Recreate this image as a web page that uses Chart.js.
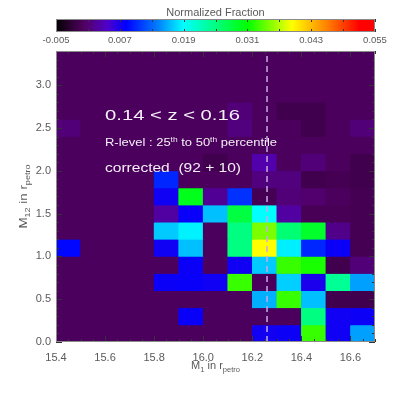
<!DOCTYPE html>
<html>
<head>
<meta charset="utf-8">
<script src="https://cdn.jsdelivr.net/npm/chart.js@4.4.1/dist/chart.umd.min.js"></script>
<style>
  html, body { margin: 0; padding: 0; background: #fff; }
  #wrap { position: relative; width: 399px; height: 399px; }
  #wrap canvas { position: absolute; left: 0; top: 0; }
</style>
</head>
<body>
<div id="wrap">
  <canvas id="main" width="399" height="399"></canvas>
  <canvas id="cbar" width="399" height="50"></canvas>
</div>
<script>
// bin lower edges
const m1Bins = [15.4, 15.5, 15.6, 15.7, 15.8, 15.9, 16.0, 16.1, 16.2, 16.3, 16.4, 16.5, 16.6];
const m12Bins = [0.0, 0.2, 0.4, 0.6, 0.8, 1.0, 1.2, 1.4, 1.6, 1.8, 2.0, 2.2, 2.4, 2.6, 2.8, 3.0, 3.2];
const binW = 0.1, binH = 0.2;

// normalized fraction per cell, one row per M12 bin (bottom row first)
const row00 = [0, 0, 0, 0, 0, 0, 0, 0, 0.0074, 0.0076, 0.0328, 0.0075, 0.0154];
const row02 = [0, 0, 0, 0, 0, 0.0078, 0, 0, 0, 0, 0.025, 0.0075, 0.0076];
const row04 = [0, 0, 0, 0, 0, 0, 0, 0, 0.016, 0.0328, 0.0166, -0.0008, -0.0008];
const row06 = [0, 0, 0, 0, 0.0077, 0.0078, 0.0075, 0.0328, 0, 0.0172, 0.007, 0.024, 0.0154];
const row08 = [0, 0, 0, 0, 0, 0.0077, 0, 0.0075, 0.017, 0.0328, 0.0318, -0.0008, 0.0012];
const row10 = [0.0085, 0, 0, 0, 0.0075, 0.0166, 0, 0.025, 0.0394, 0.0184, 0.010, 0.0077, -0.0005];
const row12 = [0, 0, 0, 0, 0.017, 0.0185, 0, 0.025, 0.035, 0.0256, 0.029, 0.002, -0.0005];
const row14 = [0, 0, 0, 0, 0.003, 0.0078, 0.0166, 0.028, 0.019, 0.003, -0.0003, -0.0003, -0.0005];
const row16 = [0, 0, 0, 0, 0.0075, 0.0298, 0.0025, 0.0105, -0.0005, 0.0012, 0.0008, 0, -0.0005];
const row18 = [0, 0, 0, 0, 0.010, 0, 0, 0, 0.0015, 0.0015, -0.0008, -0.0005, -0.0008];
const row20 = [0, 0, 0, 0, 0, 0, -0.0008, 0, 0.0034, 0, 0.0012, 0, -0.0008];
const row22 = [0, 0, 0, 0, 0, 0, 0, 0, 0, 0, 0, 0, 0];
const row24 = [0.0012, 0, 0, 0, 0, 0, 0, 0.0015, 0, 0, -0.0008, 0, 0.0012];
const row26 = [0, 0, 0, 0, 0, 0, 0, 0.0012, 0, -0.0008, -0.0008, 0, 0];
const row28 = [0, 0, 0, 0, 0, 0, 0, 0, 0, 0, 0, 0, 0];
const row30 = [0, 0, 0, 0, 0, 0, 0, 0, 0, 0, 0, 0, 0];
const row32 = [0, 0, 0, 0, 0, 0, 0, 0, 0, 0, 0, 0, 0];
const fracRows = [row00, row02, row04, row06, row08, row10, row12, row14, row16,
                  row18, row20, row22, row24, row26, row28, row30, row32];

const cutM1 = 16.26;   // dashed vertical line
const xTicks = [15.4, 15.6, 15.8, 16.0, 16.2, 16.4, 16.6];
const yTicks = [0.0, 0.5, 1.0, 1.5, 2.0, 2.5, 3.0];
const cbTicks = [-0.005, 0.007, 0.019, 0.031, 0.043, 0.055];
const cbMin = -0.005, cbMax = 0.055;

const family = "'Liberation Sans', Arial, sans-serif";
const labelGrey = '#5a5a5a';

// rainbow colour table (fraction of colour range -> rgb)
const stops = [
  [0.00, [0, 0, 0]],
  [0.04, [40, 0, 45]],
  [0.09, [82, 0, 100]],
  [0.16, [80, 0, 200]],
  [0.22, [0, 0, 255]],
  [0.32, [0, 128, 255]],
  [0.40, [0, 255, 255]],
  [0.50, [0, 255, 128]],
  [0.60, [0, 255, 0]],
  [0.74, [255, 255, 0]],
  [0.85, [255, 128, 0]],
  [0.95, [255, 0, 0]],
  [1.00, [255, 0, 0]]
];
function rgbAt(f) {
  f = Math.max(0, Math.min(1, f));
  for (let i = 1; i < stops.length; i++) {
    if (f <= stops[i][0]) {
      const [f0, c0] = stops[i - 1], [f1, c1] = stops[i];
      const t = (f - f0) / (f1 - f0);
      return 'rgb(' + c0.map((v, k) => Math.round(v + (c1[k] - v) * t)).join(',') + ')';
    }
  }
  return 'rgb(255,0,0)';
}
function colorFor(v) { return rgbAt((v - cbMin) / (cbMax - cbMin)); }

const cells = [], cellColors = [];
fracRows.forEach((row, r) => row.forEach((v, c) => {
  cells.push({ x: m1Bins[c] + binW / 2, y: [m12Bins[r], m12Bins[r] + binH] });
  cellColors.push(colorFor(v));
}));

// text made of runs with different sizes / vertical shifts
function runsWidth(ctx, runs) {
  let w = 0;
  runs.forEach(r => { ctx.font = r.size + 'px ' + family; w += ctx.measureText(r.t).width; });
  return w;
}
function drawRuns(ctx, x, y, runs, targetW, align) {
  const w = runsWidth(ctx, runs);
  const sx = targetW ? targetW / w : 1;
  const total = w * sx;
  ctx.save();
  ctx.translate(align === 'center' ? x - total / 2 : x, y);
  ctx.scale(sx, 1);
  ctx.textBaseline = 'alphabetic';
  ctx.textAlign = 'left';
  let cx = 0;
  runs.forEach(r => {
    ctx.font = r.size + 'px ' + family;
    ctx.fillText(r.t, cx, r.dy || 0);
    cx += ctx.measureText(r.t).width;
  });
  ctx.restore();
}

const heatPlugin = {
  id: 'heat',
  beforeDatasetsDraw(chart) {
    const { ctx, chartArea: a } = chart;
    ctx.save();
    ctx.fillStyle = colorFor(0);
    ctx.fillRect(a.left, a.top, a.right - a.left, a.bottom - a.top);
    ctx.restore();
  },
  afterDatasetsDraw(chart) {
    const { ctx, chartArea: a, scales } = chart;
    const sx = scales.x, sy = scales.y;
    ctx.save();
    // inward tick marks on all four sides
    ctx.strokeStyle = '#333';
    ctx.lineWidth = 1;
    ctx.beginPath();
    for (let i = 0; i <= 26; i++) {
      const v = 15.4 + i * 0.05;
      const px = Math.round(sx.getPixelForValue(v)) + 0.5;
      const len = (i % 4 === 0) ? 6 : 3;
      ctx.moveTo(px, a.bottom); ctx.lineTo(px, a.bottom - len);
      ctx.moveTo(px, a.top); ctx.lineTo(px, a.top + len);
    }
    for (let i = 0; i <= 34; i++) {
      const v = i * 0.1;
      const py = Math.round(sy.getPixelForValue(v)) + 0.5;
      const len = (i % 5 === 0) ? 6 : 3;
      ctx.moveTo(a.left, py); ctx.lineTo(a.left + len, py);
      ctx.moveTo(a.right, py); ctx.lineTo(a.right - len, py);
    }
    ctx.stroke();
    ctx.strokeStyle = '#8a8a8a';
    ctx.strokeRect(a.left + 0.5, a.top + 0.5, a.right - a.left - 1, a.bottom - a.top - 1);

    // annotations
    ctx.fillStyle = '#f4f0f6';
    drawRuns(ctx, 105, 120, [{ t: '0.14 < z < 0.16', size: 14.5 }], 135);
    drawRuns(ctx, 105, 145.5, [
      { t: 'R-level : 25', size: 10 },
      { t: 'th', size: 6.5, dy: -4 },
      { t: ' to 50', size: 10 },
      { t: 'th', size: 6.5, dy: -4 },
      { t: ' percentile', size: 10 }
    ], 172);
    drawRuns(ctx, 105, 171.5, [{ t: 'corrected  (92 + 10)', size: 12 }], 136);
    ctx.restore();
  },
  afterDraw(chart) {
    const { ctx, chartArea: a } = chart;
    ctx.save();
    ctx.fillStyle = labelGrey;
    drawRuns(ctx, (a.left + a.right) / 2, 369, [
      { t: 'M', size: 11 }, { t: '1', size: 7.5, dy: 2.5 },
      { t: ' in r', size: 11 }, { t: 'petro', size: 7.5, dy: 2.5 }
    ], 0, 'center');
    ctx.translate(27, (a.top + a.bottom) / 2);
    ctx.rotate(-Math.PI / 2);
    drawRuns(ctx, 0, 0, [
      { t: 'M', size: 11 }, { t: '12', size: 7.5, dy: 2.5 },
      { t: ' in r', size: 11 }, { t: 'petro', size: 7.5, dy: 2.5 }
    ], 64, 'center');
    ctx.restore();
  }
};

new Chart(document.getElementById('main'), {
  type: 'bar',
  data: {
    datasets: [
      {
        type: 'line',
        data: [{ x: cutM1, y: 0 }, { x: cutM1, y: 3.4 }],
        borderColor: '#c8a8e4',
        borderWidth: 1.5,
        borderDash: [6, 4],
        pointRadius: 0,
        order: 0
      },
      {
        data: cells,
        backgroundColor: cellColors,
        borderWidth: 0,
        barPercentage: 1,
        categoryPercentage: 1,
        order: 1
      }
    ]
  },
  options: {
    responsive: false,
    animation: false,
    layout: { padding: { left: 0, right: 24, top: 51, bottom: 0 } },
    plugins: { legend: { display: false }, tooltip: { enabled: false } },
    scales: {
      x: {
        type: 'linear', min: 15.4, max: 16.7, offset: false,
        grid: { display: false, drawTicks: false }, border: { display: false },
        ticks: { color: labelGrey, font: { family, size: 11 }, padding: 9, maxRotation: 0, autoSkip: false,
                 callback: v => v.toFixed(1) },
        afterBuildTicks: s => { s.ticks = xTicks.map(v => ({ value: v })); },
        afterFit: s => { s.height = 57; }
      },
      y: {
        type: 'linear', min: 0, max: 3.4,
        grid: { display: false, drawTicks: false }, border: { display: false },
        ticks: { color: labelGrey, font: { family, size: 11 }, padding: 5, autoSkip: false,
                 callback: v => v.toFixed(1) },
        afterBuildTicks: s => { s.ticks = yTicks.map(v => ({ value: v })); },
        afterFit: s => { s.width = 56; }
      }
    }
  },
  plugins: [heatPlugin]
});

// colour bar
const cbarPlugin = {
  id: 'cbarDeco',
  afterDatasetsDraw(chart) {
    const { ctx, chartArea: a, scales } = chart;
    ctx.save();
    ctx.strokeStyle = '#333';
    ctx.lineWidth = 1;
    ctx.beginPath();
    for (let i = 0; i <= 10; i++) {
      const px = Math.round(scales.x.getPixelForValue(cbMin + i * 0.006)) + 0.5;
      ctx.moveTo(px, a.top); ctx.lineTo(px, a.top + 3);
      ctx.moveTo(px, a.bottom); ctx.lineTo(px, a.bottom - 3);
    }
    ctx.stroke();
    ctx.strokeStyle = '#8a8a8a';
    ctx.strokeRect(a.left + 0.5, a.top + 0.5, a.right - a.left - 1, a.bottom - a.top - 1);
    ctx.fillStyle = labelGrey;
    ctx.font = '11px ' + family;
    ctx.textAlign = 'center';
    ctx.textBaseline = 'alphabetic';
    ctx.fillText('Normalized Fraction', (a.left + a.right) / 2, 16);
    ctx.restore();
  }
};

new Chart(document.getElementById('cbar'), {
  type: 'bar',
  data: {
    labels: ['fraction'],
    datasets: [{
      data: [[cbMin, cbMax]],
      backgroundColor: c => {
        const a = c.chart.chartArea;
        if (!a) return '#000';
        const g = c.chart.ctx.createLinearGradient(a.left, 0, a.right, 0);
        stops.forEach(([f, col]) => g.addColorStop(f, 'rgb(' + col.join(',') + ')'));
        return g;
      },
      borderWidth: 0,
      barPercentage: 1,
      categoryPercentage: 1
    }]
  },
  options: {
    indexAxis: 'y',
    responsive: false,
    animation: false,
    layout: { padding: { left: 56, right: 24, top: 19, bottom: 0 } },
    plugins: { legend: { display: false }, tooltip: { enabled: false } },
    scales: {
      x: {
        type: 'linear', min: cbMin, max: cbMax,
        grid: { display: false, drawTicks: false }, border: { display: false },
        ticks: { color: labelGrey, font: { family, size: 9.5 }, padding: 3, maxRotation: 0, autoSkip: false,
                 callback: v => v.toFixed(3) },
        afterBuildTicks: s => { s.ticks = cbTicks.map(v => ({ value: v })); },
        afterFit: s => { s.height = 18; }
      },
      y: { display: false }
    }
  },
  plugins: [cbarPlugin]
});
</script>
</body>
</html>
